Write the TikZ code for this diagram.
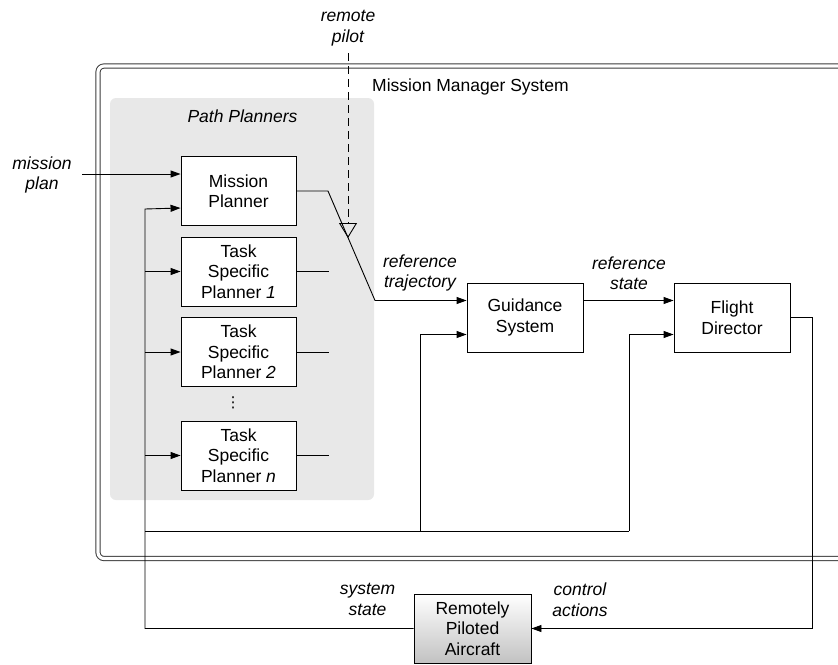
\documentclass[tikz,border=0pt]{standalone}
\usepackage{fontspec}
\setmainfont{Liberation Sans}
\newfontfamily\symfont{DejaVu Sans}
\usetikzlibrary{arrows.meta}
\definecolor{panelgray}{RGB}{232,232,232}
\definecolor{framegray}{RGB}{60,60,60}
\begin{document}
\begin{tikzpicture}[x=1pt,y=-1pt,
  txt/.style={font=\fontsize{17.5}{20.5}\selectfont, align=center, inner sep=0pt},
  lbl/.style={txt, font=\fontsize{17.5}{20.5}\selectfont\itshape},
  blk/.style={txt, draw, line width=0.9pt, fill=white, minimum width=115pt, minimum height=69pt},
  wire/.style={line width=0.9pt},
  arr/.style={wire, -{Triangle[length=10pt,width=7pt]}}
]
\useasboundingbox (0,0) rectangle (838,664);
\fill[white] (0,0) rectangle (838,664);
\clip (0,0) rectangle (838,664);

% mission manager frame (runs past the right edge)
\draw[framegray, line width=1pt, double=white, double distance=3.2pt, rounded corners=6pt]
  (98,66) rectangle (870,558.5);
\node[txt, anchor=base west] (mms) at (372,91) {Mission Manager System};

% path planner panel
\fill[panelgray, rounded corners=6pt] (110,98) rectangle (374,500);
\node[lbl, anchor=base] (pp) at (242.5,122.7) {Path Planners};

% blocks
\node[blk] (mp)   at (238.5,191)   {Mission\\Planner};
\node[blk] (tsp1) at (238.5,271.5) {Task\\Specific\\Planner \textit{1}};
\node[blk] (tsp2) at (238.5,352)   {Task\\Specific\\Planner \textit{2}};
\node[txt, font=\symfont\fontsize{15}{15}\selectfont] (dots) at (233,403) {⋮};
\node[blk] (tspn) at (238.5,455.5) {Task\\Specific\\Planner \textit{n}};
\node[blk, minimum width=116pt] (gs) at (525,317.5) {Guidance\\System};
\node[blk, minimum width=116pt] (fd) at (732,317.5) {Flight\\Director};
\node[blk, minimum width=117pt, fill=none, top color=white, bottom color=black!24]
  (rpa) at (472.5,628.5) {Remotely\\Piloted\\Aircraft};

% labels
\node[lbl] (mplan)  at (42,175)    {mission\\plan};
\node[lbl] (rpilot) at (348,28)    {remote\\pilot};
\node[lbl] (rtraj)  at (420,273)   {reference\\trajectory};
\node[lbl] (rstate) at (629,273)   {reference\\state};
\node[lbl] (sstate) at (367.5,599.5) {system\\state};
\node[lbl] (cact)   at (580,599.5) {control\\actions};

% free ends
\coordinate (planin) at (82,174);
\coordinate (pilotin) at (348,53);
\coordinate (pilotsw) at (348,238);

% mission plan input
\draw[arr] (planin) -- ([yshift=17pt]mp.west);

% remote pilot switch
\draw[wire, dash pattern=on 8pt off 5pt, -{Triangle[open,length=15pt,width=18pt,line width=0.9pt]}]
  (pilotin) -- (pilotsw);

% reference trajectory
\draw[arr] (mp.east) -- (328,191) -- (375,300.5) -- ([yshift=17pt]gs.west);

% reference state
\draw[arr] ([yshift=17pt]gs.east) -- ([yshift=17pt]fd.west);

% control actions
\draw[arr] (fd.east) -- (812,317.5) -- (812,628.5) -- (rpa.east);

% system state feedback bus
\draw[arr] (rpa.west) -- (145,628.5) -- (145,209) -- ([yshift=-17pt]mp.west);
\draw[arr] (145,271.5) -- (tsp1.west);
\draw[arr] (145,352) -- (tsp2.west);
\draw[arr] (145,455.5) -- (tspn.west);
\draw[wire] (145,531) -- (629,531);
\draw[arr] (420,531) -- (420,334.5) -- ([yshift=-17pt]gs.west);
\draw[arr] (629,531) -- (629,334.5) -- ([yshift=-17pt]fd.west);

% task planner outputs
\draw[wire] (tsp1.east) -- +(33,0);
\draw[wire] (tsp2.east) -- +(33,0);
\draw[wire] (tspn.east) -- +(33,0);
\end{tikzpicture}
\end{document}
